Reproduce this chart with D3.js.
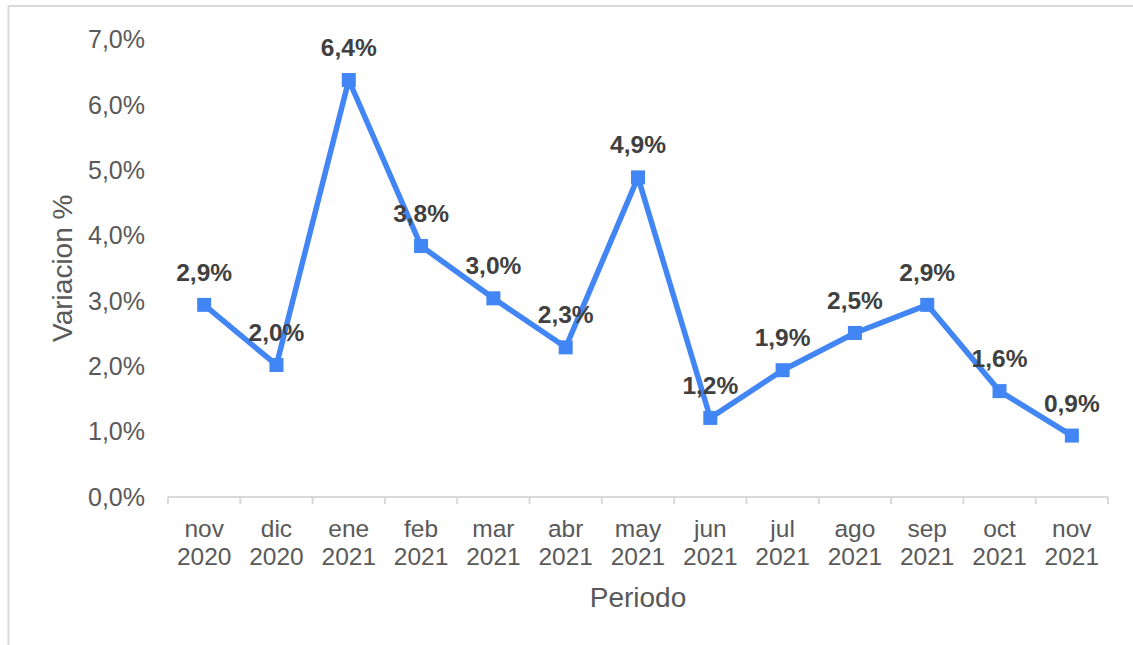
<!DOCTYPE html>
<html>
<head>
<meta charset="utf-8">
<script src="https://cdn.jsdelivr.net/npm/d3@7"></script>
<style>
  html, body { margin: 0; padding: 0; background: #fff; }
  svg { display: block; font-family: "Liberation Sans", Arial, sans-serif; }
</style>
</head>
<body>
<svg id="chart" width="1133" height="645"></svg>
<script>
const months = ["nov", "dic", "ene", "feb", "mar", "abr", "may", "jun", "jul", "ago", "sep", "oct", "nov"];
const years = ["2020", "2020", "2021", "2021", "2021", "2021", "2021", "2021", "2021", "2021", "2021", "2021", "2021"];
const values = [2.94, 2.02, 6.38, 3.84, 3.04, 2.29, 4.89, 1.21, 1.94, 2.51, 2.94, 1.62, 0.94];
const yTicks = [0, 1, 2, 3, 4, 5, 6, 7];

(function () {
const svg = d3.select("#chart");
const W = 1133, H = 645;

// frame lines (left & top)
svg.append("line").attr("x1", 8.5).attr("x2", 8.5).attr("y1", 5).attr("y2", H)
  .attr("stroke", "#d9d9d9").attr("stroke-width", 2);
svg.append("line").attr("x1", 8).attr("x2", W).attr("y1", 6).attr("y2", 6)
  .attr("stroke", "#d9d9d9").attr("stroke-width", 2);

const mLeft = 168, mRight = 1108, mTop = 39.5, mBottom = 497;
const idx = d3.range(values.length);
const x = d3.scaleBand().domain(idx).range([mLeft, mRight]).padding(0);
const y = d3.scaleLinear().domain([0, 7]).range([mBottom, mTop]);
const fmt = v => d3.format(".1f")(v).replace(".", ",") + "%";

// y tick labels (no axis line)
svg.append("g").selectAll("text").data(yTicks).join("text")
  .attr("x", 145).attr("y", d => y(d)).attr("dy", "0.35em")
  .attr("text-anchor", "end")
  .attr("font-size", 25).attr("fill", "#595959")
  .text(d => fmt(d));

// x axis
const xAxis = svg.append("g").attr("transform", `translate(0,${mBottom})`);
xAxis.append("line").attr("x1", mLeft).attr("x2", mRight).attr("y1", 0).attr("y2", 0)
  .attr("stroke", "#d9d9d9").attr("stroke-width", 2);
const bounds = idx.map(i => x(i)).concat([mRight]);
xAxis.selectAll("line.tk").data(bounds).join("line").attr("class", "tk")
  .attr("x1", d => d).attr("x2", d => d).attr("y1", 0).attr("y2", 7)
  .attr("stroke", "#d9d9d9").attr("stroke-width", 2);
const lbl = svg.append("g").selectAll("text").data(idx).join("text")
  .attr("text-anchor", "middle").attr("font-size", 24.5).attr("fill", "#595959");
lbl.append("tspan").attr("x", i => x(i) + x.bandwidth() / 2).attr("y", 537).text(i => months[i]);
lbl.append("tspan").attr("x", i => x(i) + x.bandwidth() / 2).attr("y", 565).text(i => years[i]);

// axis titles
svg.append("text").attr("x", 638).attr("y", 607).attr("text-anchor", "middle")
  .attr("font-size", 28).attr("fill", "#595959").text("Periodo");
svg.append("text").attr("transform", `translate(72,${(mTop + mBottom) / 2}) rotate(-90)`)
  .attr("text-anchor", "middle").attr("font-size", 28).attr("fill", "#595959")
  .text("Variacion %");

// line
const cx = i => x(i) + x.bandwidth() / 2;
const line = d3.line().x(i => cx(i)).y(i => y(values[i]));
svg.append("path").datum(idx).attr("d", line)
  .attr("fill", "none").attr("stroke", "#4285f4").attr("stroke-width", 5.5)
  .attr("stroke-linejoin", "round");

// markers
const ms = 14;
svg.append("g").selectAll("rect").data(idx).join("rect")
  .attr("x", i => cx(i) - ms / 2).attr("y", i => y(values[i]) - ms / 2)
  .attr("width", ms).attr("height", ms).attr("fill", "#4285f4");

// data labels
svg.append("g").selectAll("text").data(idx).join("text")
  .attr("x", i => cx(i)).attr("y", i => y(values[i]) - 24)
  .attr("text-anchor", "middle").attr("font-size", 24.5).attr("font-weight", "bold")
  .attr("fill", "#404040")
  .text(i => fmt(values[i]));
})();
</script>
</body>
</html>
